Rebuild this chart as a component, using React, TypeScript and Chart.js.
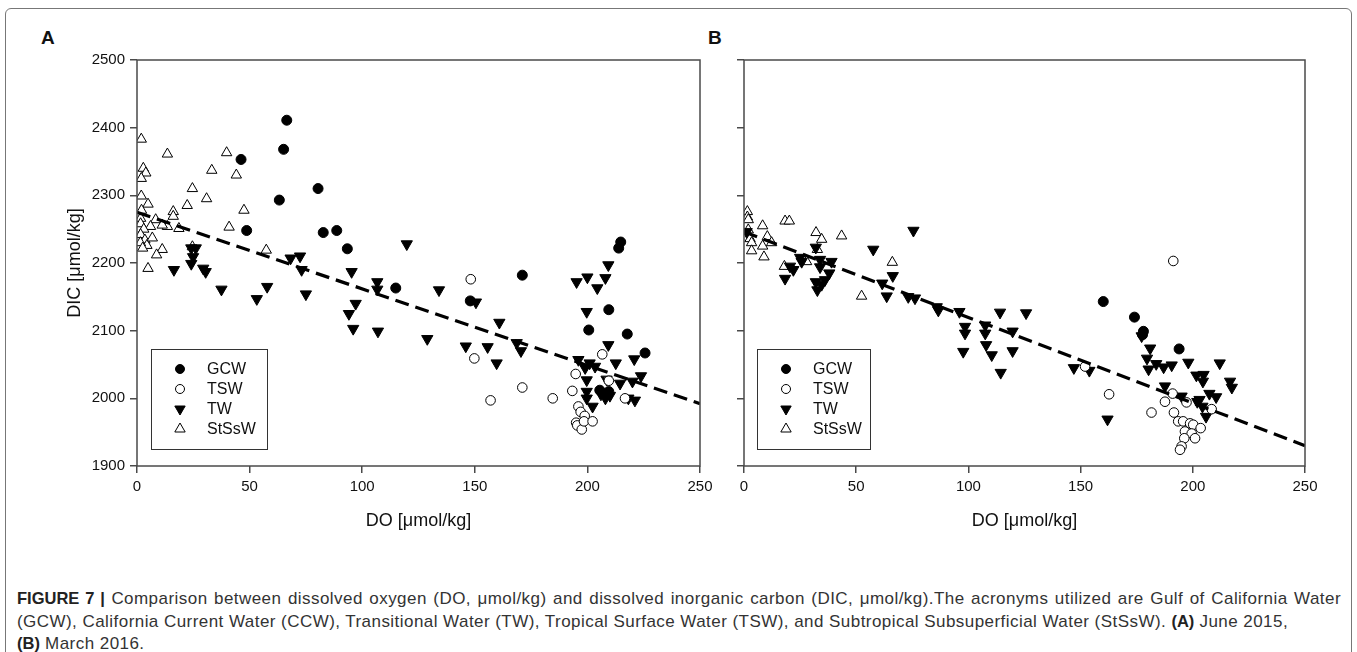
import React, { useEffect, useRef } from 'react';
import { Chart, registerables } from 'chart.js';

Chart.register(...registerables);

// ---------------- DATA (DO [µmol/kg], DIC [µmol/kg]) ----------------
// Panel A — June 2015
const A_GCW: [number, number][] = [
  [66.5, 2411], [65.1, 2368], [46.2, 2353], [63.2, 2293], [80.4, 2310], [48.7, 2248],
  [82.7, 2245], [88.7, 2248], [93.4, 2221], [114.9, 2163], [171.1, 2182], [148, 2144],
  [214.8, 2231], [213.9, 2222], [209.5, 2131], [200.6, 2101], [217.7, 2095], [225.6, 2067],
  [205.5, 2012], [207.5, 2006], [209.5, 2010],
];
const A_TSW: [number, number][] = [
  [148.2, 2176], [149.8, 2059], [157, 1997], [171.1, 2016], [184.6, 2000], [193.3, 2011],
  [194.8, 2036], [206.6, 2065], [209.5, 2026], [196, 1988], [197, 1980], [198.8, 1974],
  [195, 1964], [195.5, 1960], [197.5, 1954], [198.5, 1966], [202.3, 1966], [216.7, 2000],
];
const A_TW: [number, number][] = [
  [16.4, 2190], [24.1, 2222], [26.1, 2222], [24.9, 2209], [24.1, 2199], [29.4, 2192],
  [30.5, 2187], [37.5, 2161], [53.2, 2147], [57.8, 2165], [68.2, 2207], [72.4, 2210],
  [73.1, 2190], [75, 2154], [95.3, 2187], [97.1, 2140], [94.1, 2125], [96, 2103],
  [106.7, 2172], [106.7, 2161], [107, 2099], [119.8, 2228], [134.1, 2160], [128.9, 2088],
  [150.5, 2142], [146, 2077], [155.7, 2076], [160.9, 2112], [159.7, 2052], [168.6, 2082],
  [170.5, 2070], [195.2, 2172], [200, 2179], [204.4, 2163], [208, 2178], [209.3, 2197],
  [199.7, 2128], [209.3, 2079], [196, 2057], [199, 2045], [201, 2052], [203.4, 2047],
  [199.7, 2027], [212.6, 2052], [220.8, 2058], [223.8, 2033], [214.5, 2022], [220, 2025],
  [199.7, 2010], [199.7, 2000], [202.3, 1988], [206, 2006], [208, 2000], [210, 2004],
  [218.2, 2000], [221.1, 1997], [208.5, 2028],
];
const A_StSsW: [number, number][] = [
  [1.9, 2383], [13.5, 2361], [39.8, 2363], [33.2, 2337], [44.1, 2330], [2.8, 2340],
  [3.9, 2333], [1.9, 2325], [24.6, 2310], [30.9, 2295], [22.3, 2285], [1.9, 2299],
  [4.9, 2287], [47.5, 2278], [16.1, 2276], [16.1, 2269], [8.3, 2264], [13.5, 2254],
  [11.2, 2256], [6, 2254], [18.6, 2251], [40.9, 2253], [1.6, 2266], [1.6, 2258],
  [3, 2250], [1.6, 2242], [3.5, 2234], [4.4, 2226], [6.8, 2237], [11.2, 2220],
  [8.7, 2212], [4.9, 2192], [24.6, 2224], [57.4, 2219], [2, 2278], [1.5, 2230], [2.5, 2222],
];
const A_FIT_X = [0, 250];
const A_FIT_Y = [2275, 1992];

// Panel B — March 2016
const B_GCW: [number, number][] = [
  [160.1, 2143], [174, 2120], [178, 2099], [177.6, 2094], [193.9, 2073],
];
const B_TSW: [number, number][] = [
  [191.3, 2203], [152, 2047], [162.7, 2006], [181.6, 1979], [187.6, 1995], [191, 2007],
  [197.2, 1994], [191.6, 1979], [193.5, 1966], [195.7, 1966], [198.8, 1963], [200.2, 1961],
  [203.5, 1956], [196.5, 1951], [199.5, 1948], [196.2, 1941], [201, 1941], [195, 1929],
  [194.3, 1924], [208.4, 1984],
];
const B_TW: [number, number][] = [
  [1.2, 2246], [18.3, 2177], [20.5, 2195], [22, 2190], [25, 2208], [25.7, 2202],
  [32, 2223], [33.9, 2205], [33.9, 2194], [32, 2172], [32.7, 2160], [36.1, 2175],
  [38, 2185], [39, 2202], [34.6, 2168], [57.6, 2220], [75.5, 2248], [61.6, 2170],
  [66.3, 2181], [63.6, 2151], [73.2, 2150], [76.2, 2148], [85.9, 2135], [86.6, 2130],
  [96, 2128], [98.5, 2106], [98.5, 2096], [97.7, 2069], [107.5, 2108], [107.5, 2096],
  [107.9, 2079], [110.4, 2064], [114.1, 2127], [114.4, 2038], [119.7, 2099], [119.7, 2070],
  [125.7, 2126], [147, 2045], [153.9, 2041], [162, 1969], [177.2, 2092], [181, 2074],
  [179.6, 2059], [180.3, 2043], [183.7, 2051], [187, 2046], [190.6, 2049], [198, 2053],
  [212, 2052], [201.6, 2034], [204.8, 2035], [204.5, 2025], [187.6, 2018], [195, 2003],
  [202, 1995], [204.3, 1988], [205.9, 1973], [207.4, 2007], [210.4, 2002], [216.6, 2025],
  [217.4, 2016], [203, 1998],
];
const B_StSsW: [number, number][] = [
  [1.5, 2276], [1.5, 2268], [1.9, 2264], [1.9, 2249], [2.7, 2236], [3.4, 2230],
  [3.4, 2218], [8.3, 2255], [10.4, 2239], [8.9, 2209], [8.3, 2225], [12.3, 2230],
  [18.3, 2262], [20.2, 2262], [32.1, 2245], [34.6, 2235], [32.7, 2220], [43.5, 2240],
  [27.9, 2202], [18, 2195], [52.4, 2151], [66.1, 2201],
];
const B_FIT_X = [0, 250];
const B_FIT_Y = [2246, 1930];

const X_TICKS = [0, 50, 100, 150, 200, 250];
const Y_TICKS = [1900, 2000, 2100, 2200, 2300, 2400, 2500];
const LEGEND_LABELS = ['GCW', 'TSW', 'TW', 'StSsW'];
const X_TITLE = 'DO [μmol/kg]';
const Y_TITLE = 'DIC [μmol/kg]';

// ---------------- helpers ----------------
const FONT = '"Liberation Sans", Arial, Helvetica, sans-serif';
const AXIS_COLOR = '#4a4a4a';

const toPts = (arr: [number, number][]) => arr.map(([x, y]) => ({ x, y }));
const fitPts = (xs: number[], ys: number[]) => xs.map((x, i) => ({ x, y: ys[i] }));

type MarkerSpec = { shape: 'circle' | 'tri'; fill: string; down: boolean };
const MARKERS: MarkerSpec[] = [
  { shape: 'circle', fill: '#000', down: false },
  { shape: 'circle', fill: '#fff', down: false },
  { shape: 'tri', fill: '#000', down: true },
  { shape: 'tri', fill: '#fff', down: false },
];

function drawMarker(ctx: CanvasRenderingContext2D, m: MarkerSpec, cx: number, cy: number) {
  ctx.beginPath();
  if (m.shape === 'circle') {
    ctx.arc(cx, cy, 4.5, 0, Math.PI * 2);
  } else {
    const r = 6;
    const s = m.down ? -1 : 1;
    ctx.moveTo(cx, cy - s * r);
    ctx.lineTo(cx + r * 0.866, cy + s * r * 0.5);
    ctx.lineTo(cx - r * 0.866, cy + s * r * 0.5);
    ctx.closePath();
  }
  ctx.fillStyle = m.fill;
  ctx.fill();
  ctx.lineWidth = 1;
  ctx.strokeStyle = '#000';
  ctx.stroke();
}

const frameLegendPlugin = {
  id: 'frameLegend',
  afterDraw(chart: any) {
    const { ctx, chartArea: a } = chart;
    ctx.save();
    ctx.strokeStyle = AXIS_COLOR;
    ctx.lineWidth = 1.5;
    ctx.strokeRect(a.left, a.top, a.right - a.left, a.bottom - a.top);
    // legend box
    const opt = chart.options.plugins.frameLegend || {};
    const lx = a.left + (opt.dx ?? 14);
    const ly = a.top + (opt.dy ?? 289);
    const lw = opt.w ?? 116;
    const lh = 100;
    ctx.fillStyle = '#fff';
    ctx.fillRect(lx, ly, lw, lh);
    ctx.lineWidth = 1;
    ctx.strokeStyle = '#333';
    ctx.strokeRect(Math.round(lx) + 0.5, Math.round(ly) + 0.5, lw, lh);
    ctx.font = `16px ${FONT}`;
    ctx.textBaseline = 'middle';
    ctx.textAlign = 'left';
    LEGEND_LABELS.forEach((lab, i) => {
      const cy = ly + 20 + i * 20;
      drawMarker(ctx, MARKERS[i], lx + 29, cy);
      ctx.fillStyle = '#111';
      ctx.fillText(lab, lx + 56, cy + 1);
    });
    ctx.restore();
  },
};

type PanelData = {
  gcw: [number, number][];
  tsw: [number, number][];
  tw: [number, number][];
  st: [number, number][];
  fitX: number[];
  fitY: number[];
  showYLabels: boolean;
  yWidth: number;
  padRight: number;
  legendDx: number;
  legendW: number;
};

function makeConfig(p: PanelData): any {
  const tickFont = { family: FONT, size: 15 };
  const titleFont = { family: FONT, size: 18 };
  const grid = {
    display: true,
    drawOnChartArea: false,
    drawTicks: true,
    tickLength: 7,
    color: AXIS_COLOR,
    lineWidth: 1.5,
  };
  return {
    type: 'scatter',
    data: {
      datasets: [
        {
          label: 'fit', type: 'line', data: fitPts(p.fitX, p.fitY), borderColor: '#000',
          borderWidth: 3.2, borderDash: [14, 7], pointRadius: 0, fill: false, order: 0,
        },
        {
          label: 'GCW', data: toPts(p.gcw), pointStyle: 'circle', pointRadius: 5,
          backgroundColor: '#000', borderColor: '#000', borderWidth: 1, order: 1,
        },
        {
          label: 'TSW', data: toPts(p.tsw), pointStyle: 'circle', pointRadius: 4.8,
          backgroundColor: '#fff', borderColor: '#000', borderWidth: 1, order: 2,
        },
        {
          label: 'TW', data: toPts(p.tw), pointStyle: 'triangle', rotation: 180, pointRadius: 6.5,
          backgroundColor: '#000', borderColor: '#000', borderWidth: 1, order: 3,
        },
        {
          label: 'StSsW', data: toPts(p.st), pointStyle: 'triangle', pointRadius: 6,
          backgroundColor: '#fff', borderColor: '#000', borderWidth: 1, order: 4,
        },
      ],
    },
    options: {
      animation: false,
      responsive: false,
      devicePixelRatio: 1,
      layout: { padding: { top: 20, right: p.padRight, left: 0, bottom: 0 } },
      plugins: {
        legend: { display: false },
        tooltip: { enabled: false },
        frameLegend: { dx: p.legendDx, dy: 289, w: p.legendW },
      },
      scales: {
        x: {
          type: 'linear',
          min: X_TICKS[0],
          max: X_TICKS[X_TICKS.length - 1],
          afterBuildTicks: (s: any) => { s.ticks = X_TICKS.map((v) => ({ value: v })); },
          ticks: { font: tickFont, color: '#111', padding: 5, maxRotation: 0 },
          grid,
          border: { display: false },
          title: { display: true, text: X_TITLE, font: titleFont, color: '#111', padding: { top: 0, bottom: 8 } },
          afterFit: (s: any) => { s.height = 74; },
        },
        y: {
          type: 'linear',
          min: Y_TICKS[0],
          max: Y_TICKS[Y_TICKS.length - 1],
          afterBuildTicks: (s: any) => { s.ticks = Y_TICKS.map((v) => ({ value: v })); },
          ticks: {
            font: tickFont, color: '#111', padding: 5,
            callback: (v: any) => (p.showYLabels ? String(v) : ''),
          },
          grid,
          border: { display: false },
          title: { display: p.showYLabels, text: Y_TITLE, font: titleFont, color: '#111', padding: { top: 24, bottom: 0 } },
          afterFit: (s: any) => { s.width = p.yWidth; },
        },
      },
    },
    plugins: [frameLegendPlugin],
  };
}

function Panel({ data, left, top, width, height }: { data: PanelData; left: number; top: number; width: number; height: number }) {
  const ref = useRef<HTMLCanvasElement>(null);
  useEffect(() => {
    if (!ref.current) return;
    const chart = new Chart(ref.current, makeConfig(data));
    return () => chart.destroy();
  }, []);
  return (
    <div style={{ position: 'absolute', left, top, width, height }}>
      <canvas ref={ref} width={width} height={height} style={{ width, height, display: 'block' }} />
    </div>
  );
}

const panelA: PanelData = {
  gcw: A_GCW, tsw: A_TSW, tw: A_TW, st: A_StSsW, fitX: A_FIT_X, fitY: A_FIT_Y,
  showYLabels: true, yWidth: 97, padRight: 20, legendDx: 14, legendW: 116,
};
const panelB: PanelData = {
  gcw: B_GCW, tsw: B_TSW, tw: B_TW, st: B_StSsW, fitX: B_FIT_X, fitY: B_FIT_Y,
  showYLabels: false, yWidth: 24, padRight: 25, legendDx: 13, legendW: 113,
};

export default function App() {
  const capStyle: React.CSSProperties = {
    position: 'absolute', left: 17, whiteSpace: 'nowrap', fontFamily: FONT,
    fontSize: 17, letterSpacing: '0.45px', color: '#333', lineHeight: '20px',
  };
  const boldStyle: React.CSSProperties = { color: '#222', fontSize: 16.5, letterSpacing: 0 };
  return (
    <div style={{ position: 'absolute', left: 0, top: 0, width: 1357, height: 652, background: '#fff', overflow: 'hidden' }}>
      <div style={{ position: 'absolute', left: 5, top: 8, width: 1345, height: 660, border: '1px solid #777', borderRadius: 6 }} />
      <div style={{ position: 'absolute', left: 41, top: 27, fontFamily: FONT, fontWeight: 'bold', fontSize: 19, color: '#111' }}>A</div>
      <div style={{ position: 'absolute', left: 708, top: 27, fontFamily: FONT, fontWeight: 'bold', fontSize: 19, color: '#111' }}>B</div>
      <Panel data={panelA} left={40} top={40} width={680} height={500} />
      <Panel data={panelB} left={720} top={40} width={610} height={500} />
      <div style={{ ...capStyle, top: 588, width: 1324, textAlign: 'justify', textAlignLast: 'justify' as any, whiteSpace: 'normal' }}>
        <b style={boldStyle}>FIGURE 7 |</b> Comparison between dissolved oxygen (DO, μmol/kg) and dissolved inorganic carbon (DIC, μmol/kg).The acronyms utilized are Gulf of California Water
      </div>
      <div style={{ ...capStyle, top: 611 }}>
        (GCW), California Current Water (CCW), Transitional Water (TW), Tropical Surface Water (TSW), and Subtropical Subsuperficial Water (StSsW). <b style={boldStyle}>(A)</b> June 2015,
      </div>
      <div style={{ ...capStyle, top: 633 }}>
        <b style={boldStyle}>(B)</b> March 2016.
      </div>
    </div>
  );
}
